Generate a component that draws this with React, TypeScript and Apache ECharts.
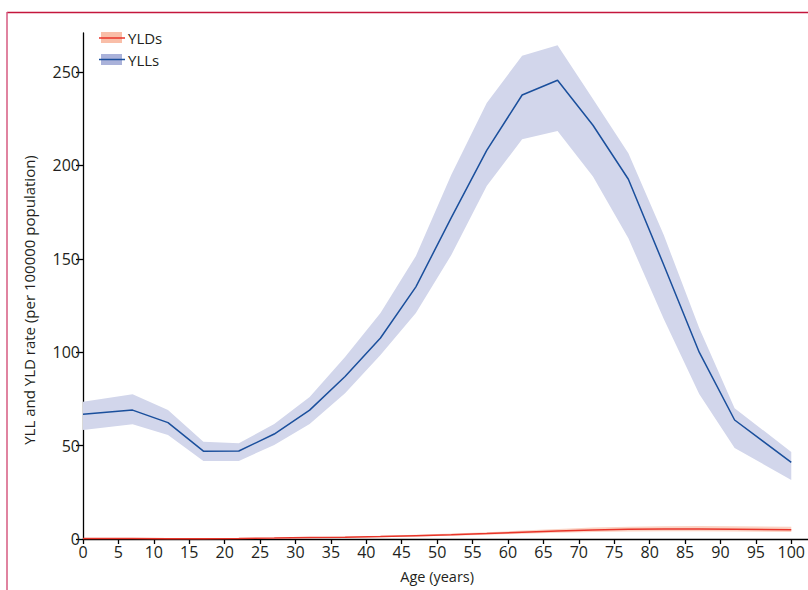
import React, { useEffect, useRef } from "react";
import * as echarts from "echarts";

const ages = [0, 7, 12, 17, 22, 27, 32, 37, 42, 47, 52, 57, 62, 67, 72, 77, 82, 87, 92, 100];
const yll = [66.8, 69, 62.3, 47, 47.1, 56.2, 69, 87, 107.6, 135, 172, 208, 237.7, 245.6, 221.5, 192.6, 146.7, 100, 63.7, 41];
const yllUpper = [73.5, 77.5, 69, 52, 51.2, 61.5, 76, 97.4, 121, 151.5, 195, 233.4, 258.7, 264.3, 235.5, 206.5, 162.7, 113, 70, 46.6];
const yllLower = [58.4, 61.4, 55.7, 41.8, 41.8, 50.3, 61.6, 78, 98.5, 121, 152, 189, 214, 218.4, 194, 161, 117.8, 77.6, 48.7, 31.6];
const yld = [0.3, 0.3, 0.2, 0.2, 0.3, 0.5, 0.8, 1.0, 1.3, 1.8, 2.3, 2.9, 3.6, 4.3, 4.8, 5.2, 5.3, 5.3, 5.2, 5.0];
const yldUpper = [0.4, 0.4, 0.3, 0.3, 0.4, 0.7, 1.0, 1.3, 1.7, 2.3, 2.9, 3.6, 4.5, 5.4, 6.1, 6.6, 6.8, 6.9, 6.8, 6.6];
const yldLower = [0.2, 0.2, 0.15, 0.15, 0.2, 0.4, 0.6, 0.8, 1.0, 1.4, 1.8, 2.3, 2.8, 3.3, 3.7, 4.0, 4.1, 4.1, 4.0, 3.8];

const legendNames = ["YLDs", "YLLs"];
const xName = "Age (years)";
const yName = "YLL and YLD rate (per 100000 population)";

const FONT = "'Open Sans', 'Noto Sans', sans-serif";
const TEXT = "#231f20";
const BLUE = "#1a4f9c";
const BLUE_BAND = "#d2d6eb";
const RED = "#e8352a";
const RED_BAND = "#fbd3c4";

export default function App() {
  const ref = useRef<HTMLDivElement>(null);
  useEffect(() => {
    if (!ref.current) return;
    const chart = echarts.init(ref.current, null, { renderer: "svg" });
    const pairs = (arr: number[]) => ages.map((a, i) => [a, arr[i]]);
    const bandData = (l: number[], u: number[]) => ages.map((a, i) => [a, l[i], u[i]]);
    const bandRender = (color: string) => (params: any, api: any) => {
      if (params.dataIndex !== 0) return null;
      const top: number[][] = [];
      const bottom: number[][] = [];
      for (let i = 0; i < ages.length; i++) {
        const x = api.value(0, i);
        if (x == null || isNaN(x)) continue;
        bottom.push(api.coord([x, api.value(1, i)]));
        top.push(api.coord([x, api.value(2, i)]));
      }
      const points = top.concat(bottom.reverse());
      return {
        type: "polygon",
        shape: { points },
        style: { fill: color, stroke: "none" },
        silent: true,
      };
    };
    const noAxis = {
      axisLine: { show: false },
      axisTick: { show: false },
      axisLabel: { show: false },
      splitLine: { show: false },
    };
    chart.setOption({
      animation: false,
      textStyle: { fontFamily: FONT },
      grid: [
        { left: 83, right: 15, top: 72, bottom: 51, containLabel: false },
        { left: 83, right: 0, top: 33, bottom: 51, containLabel: false },
      ],
      xAxis: [
        {
          type: "value",
          gridIndex: 0,
          min: 0,
          max: 100,
          interval: 5,
          axisLine: { show: false },
          axisTick: { show: true, length: 5, lineStyle: { color: "#000", width: 1.3 } },
          axisLabel: { color: TEXT, fontSize: 16, margin: 5, fontFamily: FONT },
          splitLine: { show: false },
          name: xName,
          nameLocation: "middle",
          nameGap: 30,
          nameTextStyle: { color: TEXT, fontSize: 14.5, fontFamily: FONT, verticalAlign: "top" },
        },
        {
          type: "value",
          gridIndex: 1,
          min: 0,
          max: 1,
          ...noAxis,
          axisLine: { show: true, onZero: false, lineStyle: { color: "#000", width: 1.3 } },
        },
      ],
      yAxis: [
        {
          type: "value",
          gridIndex: 0,
          min: 0,
          max: 250,
          interval: 50,
          axisLine: { show: false },
          axisTick: { show: true, length: 7, lineStyle: { color: "#000", width: 1.3 } },
          axisLabel: { color: TEXT, fontSize: 16, margin: 3, fontFamily: FONT },
          splitLine: { show: false },
        },
        {
          type: "value",
          gridIndex: 1,
          min: 0,
          max: 1,
          ...noAxis,
          axisLine: { show: true, onZero: false, lineStyle: { color: "#000", width: 1.3 } },
        },
      ],
      series: [
        {
          type: "custom",
          name: "yllBand",
          data: bandData(yllLower, yllUpper),
          renderItem: bandRender(BLUE_BAND),
          encode: { x: 0, y: [1, 2] },
          clip: false,
          silent: true,
          z: 1,
        },
        {
          type: "custom",
          name: "yldBand",
          data: bandData(yldLower, yldUpper),
          renderItem: bandRender(RED_BAND),
          encode: { x: 0, y: [1, 2] },
          clip: false,
          silent: true,
          z: 2,
        },
        {
          type: "line",
          name: legendNames[1],
          data: pairs(yll),
          symbol: "none",
          lineStyle: { color: BLUE, width: 1.5 },
          clip: false,
          z: 5,
        },
        {
          type: "line",
          name: legendNames[0],
          data: pairs(yld),
          symbol: "none",
          lineStyle: { color: RED, width: 1.5 },
          clip: false,
          z: 6,
        },
      ],
      graphic: [
        { type: "line", shape: { x1: 7, y1: 12.5, x2: 808, y2: 12.5 }, style: { stroke: "#c4163c", lineWidth: 1.5 } },
        { type: "line", shape: { x1: 7, y1: 12, x2: 7, y2: 590 }, style: { stroke: "#d65a80", lineWidth: 1.5 } },
        { type: "rect", shape: { x: 101, y: 32, width: 21, height: 11 }, style: { fill: "#f9bea8" } },
        { type: "line", shape: { x1: 99, y1: 38, x2: 125, y2: 38 }, style: { stroke: RED, lineWidth: 1.5 } },
        { type: "rect", shape: { x: 101, y: 54, width: 21, height: 11 }, style: { fill: "#aab2da" } },
        { type: "line", shape: { x1: 99, y1: 59.5, x2: 125, y2: 59.5 }, style: { stroke: BLUE, lineWidth: 1.5 } },
        {
          type: "text",
          x: 128,
          y: 38,
          style: { text: legendNames[0], fill: TEXT, fontSize: 15, fontFamily: FONT, align: "left", verticalAlign: "middle" },
        },
        {
          type: "text",
          x: 128,
          y: 59.5,
          style: { text: legendNames[1], fill: TEXT, fontSize: 15, fontFamily: FONT, align: "left", verticalAlign: "middle" },
        },
        {
          type: "text",
          x: 29,
          y: 300,
          rotation: Math.PI / 2,
          style: { text: yName, fill: TEXT, fontSize: 15, fontFamily: FONT, align: "center", verticalAlign: "middle" },
        },
      ],
    });
    return () => chart.dispose();
  }, []);
  return (
    <div
      ref={ref}
      style={{ position: "fixed", left: 0, top: 0, width: 808, height: 590, background: "#fff" }}
    />
  );
}
